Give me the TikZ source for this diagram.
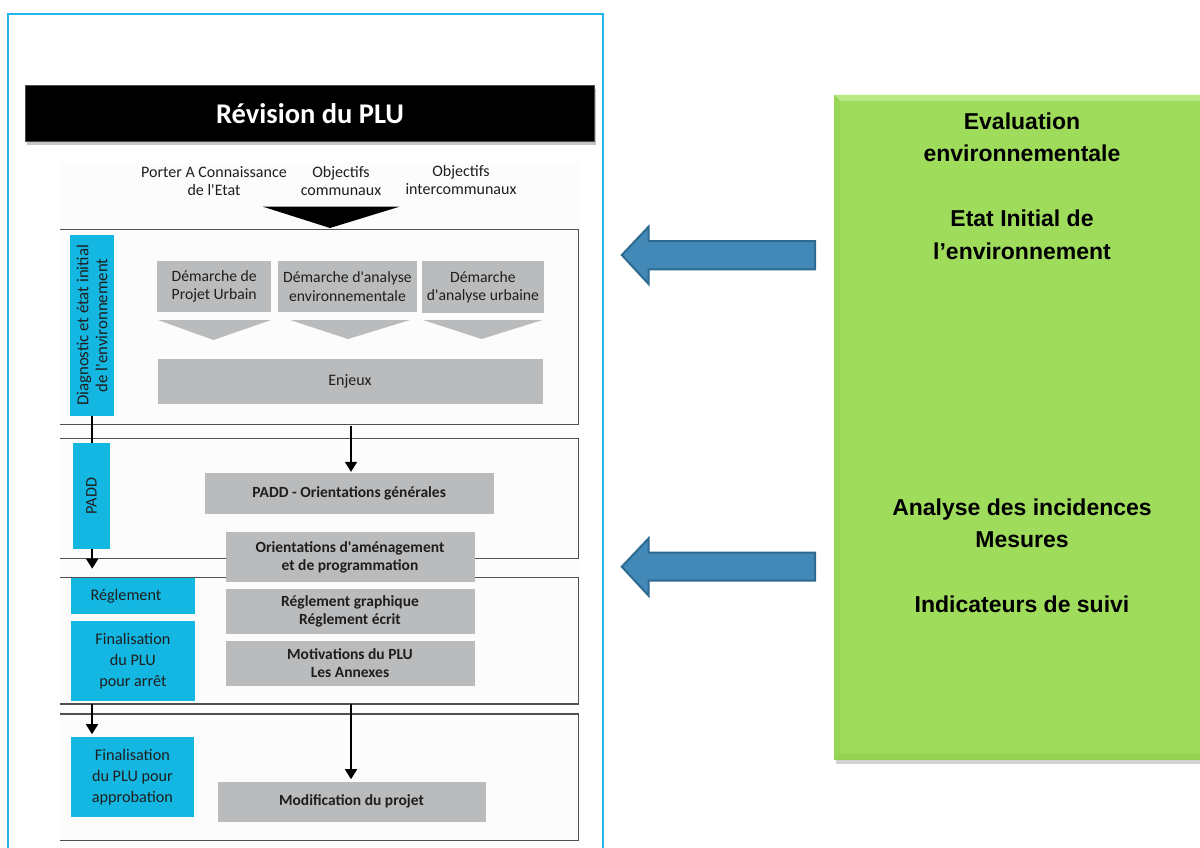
\documentclass[tikz,border=0pt]{standalone}
\usepackage{fontspec}
\setmainfont{Carlito}
\newfontfamily\greenfont{Liberation Sans}
\usetikzlibrary{arrows.meta,shadows,calc}

\newcommand\sq{\textquotesingle}

\definecolor{frameblue}{HTML}{22B4E8}
\definecolor{cyanbox}{HTML}{14B7E2}
\definecolor{greybox}{HTML}{B9BBBD}
\definecolor{secline}{HTML}{505050}
\definecolor{leafgreen}{HTML}{A0DC5C}
\definecolor{leaflight}{HTML}{B6E883}
\definecolor{leafdark}{HTML}{8CC84A}
\definecolor{arrowfill}{HTML}{4289B8}
\definecolor{arrowline}{HTML}{2D6A90}
\definecolor{inktext}{HTML}{1E1E1E}

\tikzset{
  every node/.style={inner sep=0pt, outer sep=0pt},
  sec/.style={draw=secline, line width=1.5pt},
  greyb/.style={fill=greybox, align=center, text=inktext, font=\fontsize{15.7}{18.4}\selectfont},
  greybold/.style={fill=greybox, align=center, text=inktext, font=\fontsize{15.5}{18}\selectfont\bfseries},
  cyanb/.style={fill=cyanbox, align=center, text=inktext, font=\fontsize{16.2}{21}\selectfont},
  toptxt/.style={align=center, text=inktext, font=\fontsize{16}{18}\selectfont},
  chev/.style={fill=greybox},
  link/.style={line width=1.6pt, black},
  arr/.style={link, -{Triangle[length=10pt,width=12pt]}},
  blockarrow/.style={fill=arrowfill, draw=arrowline, line width=2pt, line join=miter},
  greentxt/.style={align=center, text=black, font=\greenfont\bfseries\fontsize{23}{32.5}\selectfont}
}

\begin{document}
\begin{tikzpicture}[x=1pt,y=-1pt]
\useasboundingbox (0,0) rectangle (1200,848);
\fill[white] (0,0) rectangle (1200,848);

% outer frame of the PLU panel
\fill[black!1.2] (60,162) rectangle (580,848);
\draw[frameblue, line width=2pt] (8,14) rectangle (603,880);

% title bar
\node (title) [fill=black, draw=black!70, line width=1pt,
  minimum width=568.6pt, minimum height=55.7pt,
  drop shadow={shadow xshift=1.5pt, shadow yshift=-3pt, opacity=.45},
  text=white, font=\fontsize{28.5}{30}\selectfont\bfseries] at (310,113.8) {Révision du PLU};

% inputs
\node (pac) [toptxt] at (214,181) {Porter A Connaissance\\de l\sq Etat};
\node (obc) [toptxt] at (341,181) {Objectifs\\communaux};
\node (obi) [toptxt] at (461,180) {Objectifs\\intercommunaux};
\fill[black] (263,206.7) -- (399.4,206.7) -- (330,228) -- cycle;

% phase frames (open on the left)
\draw[sec] (60,229.5) -- (578.5,229.5) -- (578.5,424.5) -- (60,424.5);
\draw[sec] (60,438.5) -- (578.5,438.5) -- (578.5,558.3) -- (60,558.3);
\draw[sec] (60,577.3) -- (578.5,577.3) -- (578.5,704) -- (60,704);
\draw[sec] (60,714) -- (578.5,714) -- (578.5,840.7) -- (60,840.7);

% phase 1: diagnostic
\node (diag) [cyanb, rotate=90, minimum width=180.7pt, minimum height=43.5pt,
  font=\fontsize{16.8}{19}\selectfont] at (92.2,325.4) {Diagnostic et état initial\\de l\sq environnement};
\node (dpu) [greyb, minimum width=113.6pt, minimum height=51pt] at (214.2,286.2) {Démarche de\\Projet Urbain};
\node (dae) [greyb, minimum width=139pt, minimum height=51.6pt] at (347.5,286.5) {Démarche d\sq analyse\\environnementale};
\node (dau) [greyb, minimum width=121.7pt, minimum height=52pt] at (482.9,287.3) {Démarche\\d\sq analyse urbaine};
\fill[chev] (158,320) -- (271,320) -- (213.5,340) -- cycle;
\fill[chev] (290,320) -- (410,320) -- (348,339) -- cycle;
\fill[chev] (423,320) -- (542.5,320) -- (481.6,339) -- cycle;
\node (enjeux) [greyb, minimum width=385pt, minimum height=45pt, font=\fontsize{16}{18}\selectfont] at (350,381.5) {Enjeux};

% phase 2: PADD
\node (padd) [cyanb, rotate=90, minimum width=105.7pt, minimum height=36.6pt] at (91.5,496.2) {PADD};
\node (paddo) [greybold, minimum width=288.7pt, minimum height=40.7pt] at (349.2,493.7) {PADD - Orientations générales};
\node (oap) [greybold, minimum width=249pt, minimum height=50pt] at (350,557.3) {Orientations d\sq aménagement\\et de programmation};

% phase 3: règlement
\node (regl) [cyanb, minimum width=123.3pt, minimum height=36.6pt] at (132.9,596) {Réglement\hspace*{14pt}};
\node (fin1) [cyanb, minimum width=123.3pt, minimum height=80pt] at (132.9,661) {Finalisation\\du PLU\\pour arrêt};
\node (rgre) [greybold, minimum width=249pt, minimum height=45.3pt] at (350,611.7) {Réglement graphique\\Réglement écrit};
\node (motiv) [greybold, minimum width=249pt, minimum height=45.3pt] at (350,663.3) {Motivations du PLU\\Les Annexes};

% phase 4: approbation
\node (fin2) [cyanb, minimum width=122.7pt, minimum height=80.6pt] at (132.4,777) {Finalisation\\du PLU pour\\approbation};
\node (modif) [greybold, minimum width=268pt, minimum height=40pt] at (351.5,801.7) {Modification du projet};

% flow between phases
\coordinate (s1out) at (351,426);
\coordinate (s3out) at (351,704);
\coordinate (s3left) at (92,704);
\draw[link] (diag.west) -- (diag.west |- padd.east);
\draw[arr, shorten >=9pt] (diag.west |- padd.west) -- (diag.west |- regl.north);
\draw[arr, shorten >=2.5pt] (s3left) -- (s3left |- fin2.north);
\draw[arr, shorten >=1.5pt] (s1out) -- (s1out |- paddo.north);
\draw[arr, shorten >=2.5pt] (s3out) -- (s3out |- modif.north);

% environmental assessment panel
\node (evalbox) [fill=leafgreen, minimum width=380pt, minimum height=665pt,
  drop shadow={shadow xshift=2pt, shadow yshift=-4pt, opacity=.35}] at (1024,427.5) {};
\fill[leaflight] (evalbox.north west) -- (evalbox.north east) -- ++(-6,6) -- ($(evalbox.north west)+(6,6)$) -- cycle;
\fill[leafdark, opacity=.5] (evalbox.south west) -- (evalbox.south east) -- ++(-6,-6) -- ($(evalbox.south west)+(6,-6)$) -- cycle;
\fill[leafdark, opacity=.35] (evalbox.north west) -- ($(evalbox.north west)+(6,6)$) -- ($(evalbox.south west)+(6,-6)$) -- (evalbox.south west) -- cycle;

\node (evaltxt) [greentxt] at (1022,186) {Evaluation\\environnementale\\[32.5pt]Etat Initial de\\l’environnement};
\node (inctxt) [greentxt] at (1022,556) {Analyse des incidences\\Mesures\\[32.5pt]Indicateurs de suivi};

% block arrows towards the PLU panel
\draw[blockarrow] (621.8,255) -- (648.6,226.7) -- (648.6,241) -- (815,241) -- (815,269.3) -- (648.6,269.3) -- (648.6,284) -- cycle;
\draw[blockarrow] (621.8,566.7) -- (648.6,538.3) -- (648.6,552.7) -- (815,552.7) -- (815,580.7) -- (648.6,580.7) -- (648.6,595.7) -- cycle;
\end{tikzpicture}
\end{document}
